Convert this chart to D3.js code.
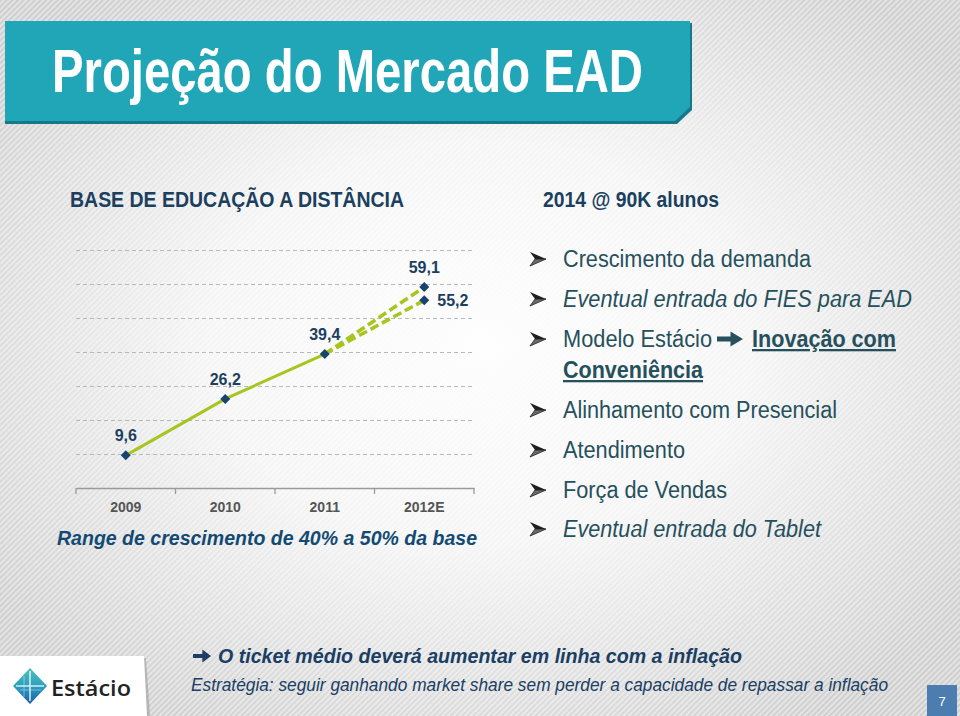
<!DOCTYPE html>
<html><head><meta charset="utf-8">
<script src="https://cdn.jsdelivr.net/npm/d3@7"></script>
<style>html,body{margin:0;padding:0;background:#e0e0e0;}svg{display:block;}</style>
</head><body>
<svg id="c" width="960" height="716"></svg>
<script>
// ---- data ----
const categories = ["2009", "2010", "2011", "2012E"];
const actualValues = [9.6, 26.2, 39.4];            // 2009–2011
const projectionHigh = [39.4, 59.1];               // 2011 -> 2012E (50%)
const projectionLow = [39.4, 55.2];                // 2011 -> 2012E (40%)
const yTickValues = [10, 20, 30, 40, 50, 60, 70];
const bulletLines = [
  "Crescimento da demanda",
  "Eventual entrada do FIES para EAD",
  "Modelo Estácio",
  "Conveniência",
  "Alinhamento com Presencial",
  "Atendimento",
  "Força de Vendas",
  "Eventual entrada do Tablet"
];
const bulletEmphasis = "Inovação com";

const svg = d3.select("#c");
const FONT = "'Liberation Sans Narrow','Arial Narrow','Liberation Sans',Arial,sans-serif";
const defs = svg.append("defs");

// background
const pat = defs.append("pattern").attr("id","hatch").attr("patternUnits","userSpaceOnUse")
  .attr("width",4).attr("height",4).attr("patternTransform","rotate(-45)");
pat.append("rect").attr("width",4).attr("height",4).attr("fill","#e2e2e2");
pat.append("rect").attr("width",4).attr("height",1.6).attr("fill","#c8c8c8");
const rg = defs.append("radialGradient").attr("id","glow").attr("cx","50%").attr("cy","48%").attr("r","62%");
rg.append("stop").attr("offset","0%").attr("stop-color","#fff").attr("stop-opacity",0.97);
rg.append("stop").attr("offset","45%").attr("stop-color","#fff").attr("stop-opacity",0.8);
rg.append("stop").attr("offset","100%").attr("stop-color","#fff").attr("stop-opacity",0.05);
svg.append("rect").attr("width",960).attr("height",716).attr("fill","url(#hatch)");
svg.append("rect").attr("width",960).attr("height",716).attr("fill","url(#glow)");

// title banner
svg.append("path").attr("d","M5,23 H692 V110 L677,124 H5 Z").attr("fill","#16798a");
svg.append("path").attr("d","M5,21 H690 V107 L675,121 H5 Z").attr("fill","#21a6b7");
function fitText(sel, w){ sel.attr("textLength", w).attr("lengthAdjust","spacingAndGlyphs"); return sel; }
fitText(svg.append("text").attr("x",52).attr("y",92).attr("fill","#fff")
  .attr("font-family",FONT).attr("font-weight","bold").attr("font-size",62)
  .text("Projeção do Mercado EAD"), 591);

// sub headers
fitText(svg.append("text").attr("x",70).attr("y",207).attr("fill","#1b3f5f")
  .attr("font-family",FONT).attr("font-weight","bold").attr("font-size",22)
  .text("BASE DE EDUCAÇÃO A DISTÂNCIA"), 334);
fitText(svg.append("text").attr("x",543).attr("y",207).attr("fill","#1b3f5f")
  .attr("font-family",FONT).attr("font-weight","bold").attr("font-size",22)
  .text("2014 @ 90K alunos"), 176);

// ---- chart ----
const x = d3.scaleBand().domain(categories).range([76, 474]).paddingInner(0).paddingOuter(0);
const y = d3.scaleLinear().domain([0, 70]).range([488, 250]);
const cx = c => x(c) + x.bandwidth()/2;

const grid = svg.append("g").attr("transform","translate(76,0)")
  .call(d3.axisLeft(y).tickValues(yTickValues).tickSize(-398).tickFormat(""));
grid.select(".domain").remove();
grid.selectAll("line").attr("stroke","#b8b8b8").attr("stroke-width",1).attr("stroke-dasharray","4,3");

const xa = svg.append("g").attr("transform","translate(0,488)")
  .call(d3.axisBottom(x).tickSize(0).tickPadding(14).tickSizeOuter(0));
xa.select(".domain").attr("stroke","#9a9a9a").attr("stroke-width",1.3);
xa.selectAll("text").attr("font-family",FONT).attr("font-weight","bold").attr("font-size",14).attr("fill","#555");
const edges = categories.map(c => x(c)).concat([x(categories[categories.length-1]) + x.bandwidth()]);
svg.append("g").selectAll("line").data(edges).join("line")
  .attr("x1",d=>d).attr("x2",d=>d).attr("y1",488).attr("y2",494)
  .attr("stroke","#9a9a9a").attr("stroke-width",1.3);

const line = d3.line().x(d=>cx(d.c)).y(d=>y(d.v));
const actualPts = actualValues.map((v,i)=>({c:categories[i], v}));
const highPts = projectionHigh.map((v,i)=>({c:categories[2+i], v}));
const lowPts = projectionLow.map((v,i)=>({c:categories[2+i], v}));
const LINE = "#a6c51e";
svg.append("path").attr("d",line(actualPts)).attr("fill","none").attr("stroke",LINE).attr("stroke-width",3);
[highPts, lowPts].forEach(p => svg.append("path").attr("d",line(p)).attr("fill","none")
  .attr("stroke",LINE).attr("stroke-width",3.5).attr("stroke-dasharray","9,4"));

const allPts = actualPts.concat([highPts[1], lowPts[1]]);
const diamond = d3.symbol().type(d3.symbolDiamond2).size(64);
svg.append("g").selectAll("path").data(allPts).join("path")
  .attr("d",diamond).attr("transform",d=>`translate(${cx(d.c)},${y(d.v)})`)
  .attr("fill","#17436e");

const loc = d3.formatLocale({decimal:",", thousands:".", grouping:[3], currency:["",""]});
const fmt = loc.format(".1f");
svg.append("g").selectAll("text").data(allPts).join("text")
  .attr("x",(d,i)=> i===4 ? cx(d.c)+13 : cx(d.c))
  .attr("y",(d,i)=> i===4 ? y(d.v)+6 : y(d.v)-14)
  .attr("text-anchor",(d,i)=> i===4 ? "start" : "middle")
  .attr("font-family",FONT).attr("font-weight","bold").attr("font-size",16).attr("fill","#1b3f5f")
  .text(d=>fmt(d.v));

fitText(svg.append("text").attr("x",57).attr("y",545).attr("fill","#124a74")
  .attr("font-family",FONT).attr("font-weight","bold").attr("font-style","italic").attr("font-size",21)
  .text("Range de crescimento de 40% a 50% da base"), 420);

// ---- bullets ----
const bulletBase = [267, 307, 347, 378, 418, 458, 498, 537];
const bulletW = [248, 349, 149, 140, 274, 122, 164, 258];
const bulletItalic = [false, true, false, false, false, false, false, true];
const bulletBold = [false, false, false, true, false, false, false, false];
const TXT = "#25505c";
function arrowHead(g, x0, yc){
  g.append("path").attr("d",`M${x0},${yc-7} L${x0+16},${yc} L${x0+5},${yc} Z`).attr("fill","#1e1e1e");
  g.append("path").attr("d",`M${x0},${yc+7} L${x0+16},${yc} L${x0+5},${yc} Z`).attr("fill","#6a6a6a")
    .attr("stroke","#1e1e1e").attr("stroke-width",0.8).attr("stroke-linejoin","round");
}
function heavyArrow(g, x0, yc, w, h, color){
  const sh = h*0.32;
  g.append("path").attr("d",
    `M${x0},${yc-sh/2} H${x0+w*0.52} V${yc-h/2} L${x0+w},${yc} L${x0+w*0.52},${yc+h/2} V${yc+sh/2} H${x0} Z`)
    .attr("fill",color);
}
const bg = svg.append("g");
bulletLines.forEach((s,i)=>{
  if(i !== 3) arrowHead(bg, 530, bulletBase[i]-8);
  const t = bg.append("text").attr("x",563).attr("y",bulletBase[i]).attr("fill",TXT)
    .attr("font-family",FONT).attr("font-size",23)
    .attr("font-style", bulletItalic[i] ? "italic" : "normal")
    .attr("font-weight", bulletBold[i] ? "bold" : "normal")
    .attr("text-decoration", bulletBold[i] ? "underline" : "none")
    .text(s);
  fitText(t, bulletW[i]);
});
heavyArrow(bg, 717, 339, 26, 15, "#25505c");
fitText(bg.append("text").attr("x",752).attr("y",347).attr("fill",TXT)
  .attr("font-family",FONT).attr("font-size",23).attr("font-weight","bold").attr("text-decoration","underline")
  .text(bulletEmphasis), 144);

// ---- footer ----
svg.append("path").attr("d","M3,658 H146 L150,716 H3 Z").attr("fill","#9c9c9c").attr("opacity",0.6);
svg.append("path").attr("d","M0,656 H144 L147,716 H0 Z").attr("fill","#fff");
const dg = defs.append("linearGradient").attr("id","dia").attr("x1",0).attr("y1",0).attr("x2",0).attr("y2",1);
dg.append("stop").attr("offset","0%").attr("stop-color","#4ec3b5");
dg.append("stop").attr("offset","50%").attr("stop-color","#2c9fc0");
dg.append("stop").attr("offset","100%").attr("stop-color","#1a5ea6");
svg.append("path").attr("d","M30,668 L47,686 L30,704 L13,686 Z").attr("fill","url(#dia)");
svg.append("path").attr("d","M30,671 V701 M16,686 H44").attr("stroke","#fff").attr("stroke-width",1.6).attr("opacity",0.8);
svg.append("path").attr("d","M24,676 V697 M20,690 H41").attr("stroke","#fff").attr("stroke-width",0.8).attr("opacity",0.5);
fitText(svg.append("text").attr("x",51).attr("y",696).attr("fill","#222")
  .attr("font-family","'Open Sans',sans-serif").attr("font-weight","600").attr("font-size",22).text("Estácio"), 80);

heavyArrow(svg, 193, 656, 18, 13, "#1a3e64");
fitText(svg.append("text").attr("x",218).attr("y",663).attr("fill","#1a3e64")
  .attr("font-family",FONT).attr("font-weight","bold").attr("font-style","italic").attr("font-size",20)
  .text("O ticket médio deverá aumentar em linha com a inflação"), 524);
fitText(svg.append("text").attr("x",191).attr("y",691).attr("fill","#1a3e64")
  .attr("font-family",FONT).attr("font-style","italic").attr("font-size",19)
  .text("Estratégia: seguir ganhando market share sem perder a capacidade de repassar a inflação"), 697);

svg.append("rect").attr("x",927).attr("y",685).attr("width",30).attr("height",31).attr("fill","#4c7db0");
svg.append("text").attr("x",942).attr("y",706).attr("text-anchor","middle").attr("fill","#fff")
  .attr("font-family",FONT).attr("font-size",13).text("7");
</script>
</body></html>
